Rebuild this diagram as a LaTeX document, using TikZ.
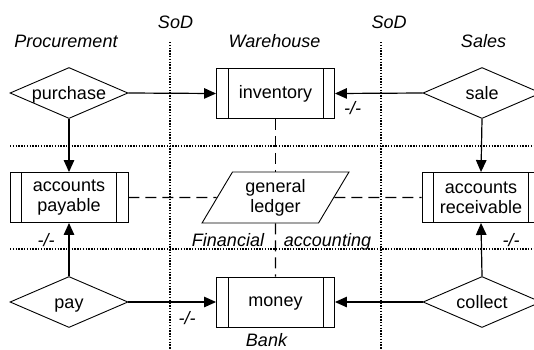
\documentclass[tikz,border=0pt]{standalone}
\usepackage{fontspec}
\setmainfont{Liberation Sans}
\usetikzlibrary{arrows.meta,shapes.geometric}
\begin{document}
\begin{tikzpicture}[x=1pt,y=-1pt,
  every node/.style={font=\fontsize{18}{20}\selectfont},
  shapeline/.style={line width=0.9pt,draw=black},
  decision/.style={shape=diamond,shapeline,minimum width=118pt,minimum height=51pt,
    inner sep=0pt,aspect=2.3,text height=12pt,text depth=0pt},
  store/.style={rectangle,shapeline,minimum width=118pt,minimum height=50pt,
    inner sep=0pt,align=center,
    path picture={\draw[line width=0.9pt]
      ([xshift=11.5pt]path picture bounding box.north west) --
      ([xshift=11.5pt]path picture bounding box.south west)
      ([xshift=-11.5pt]path picture bounding box.north east) --
      ([xshift=-11.5pt]path picture bounding box.south east);}},
  oneline/.style={text height=12.5pt,text depth=3pt},
  ledgerbox/.style={trapezium,trapezium left angle=60,trapezium right angle=120,
    trapezium stretches=true,shapeline,minimum width=147pt,minimum height=51pt,
    inner sep=0pt,align=center},
  flow/.style={line width=1.2pt,-{Triangle[length=12pt,width=10.5pt]}},
  link/.style={line width=1.2pt,dash pattern=on 11pt off 6pt},
  boundary/.style={line width=1.1pt,dash pattern=on 1.4pt off 1.4pt},
  lane/.style={font=\fontsize{18}{20}\selectfont\itshape,anchor=base,inner sep=0.5pt},
  cut/.style={font=\fontsize{18}{20}\selectfont\itshape,inner sep=0pt}
]
\useasboundingbox (0,0) rectangle (534,349);
\clip (0,0) rectangle (534,349);

% lane boundaries
\draw[boundary] (170,42) -- (170,349);
\draw[boundary] (381,42) -- (381,349);
\draw[boundary] (10,146) -- (534,146);
\draw[boundary] (10,249) -- (534,249);

% lane titles
\node[lane] (sod1) at (175.5,28) {SoD};
\node[lane] (sod2) at (389,28) {SoD};
\node[lane] (proc) at (66,47) {Procurement};
\node[lane] (ware) at (274.5,47) {Warehouse};
\node[lane] (sales) at (483.5,47) {Sales};
\node[lane] (fin) at (228,246) {Financial};
\node[lane] (acc) at (327.5,246) {accounting};
\node[lane] (bank) at (266.5,346.5) {Bank};

% events
\node[decision] (purchase) at (69,93) {purchase};
\node[decision] (sale) at (482,93) {sale};
\node[decision] (pay) at (69,302) {pay};
\node[decision] (collect) at (482,302) {collect};

% stores
\node[store,oneline] (inventory) at (275.5,93.5) {inventory};
\node[store] (payable) at (69,197.5) {accounts\\payable};
\node[store] (receivable) at (481,197.5) {accounts\\receivable};
\node[store,oneline] (money) at (275.5,302) {money};
\node[ledgerbox] (ledger) at (275.5,197.5) {general\\ledger};

% flows
\draw[flow] (purchase.east) -- (inventory.west);
\draw[flow] (sale.west) -- (inventory.east);
\draw[flow] (purchase.south) -- (payable.north);
\draw[flow] (sale.south) -- (receivable.north);
\draw[flow] (pay.north) -- (payable.south);
\draw[flow] (collect.north) -- (receivable.south);
\draw[flow] (pay.east) -- (money.west);
\draw[flow] (collect.west) -- (money.east);

% ledger links
\draw[link] (inventory) -- (ledger);
\draw[link] (ledger) -- (money);
\draw[link] (payable) -- (ledger);
\draw[link] (ledger) -- (receivable);

% cut markers
\node[cut] (cutinv) at (352.5,108) {-/-};
\node[cut] (cutpay) at (46,240) {-/-};
\node[cut] (cutrec) at (511,240) {-/-};
\node[cut] (cutmon) at (187,318) {-/-};
\end{tikzpicture}
\end{document}
